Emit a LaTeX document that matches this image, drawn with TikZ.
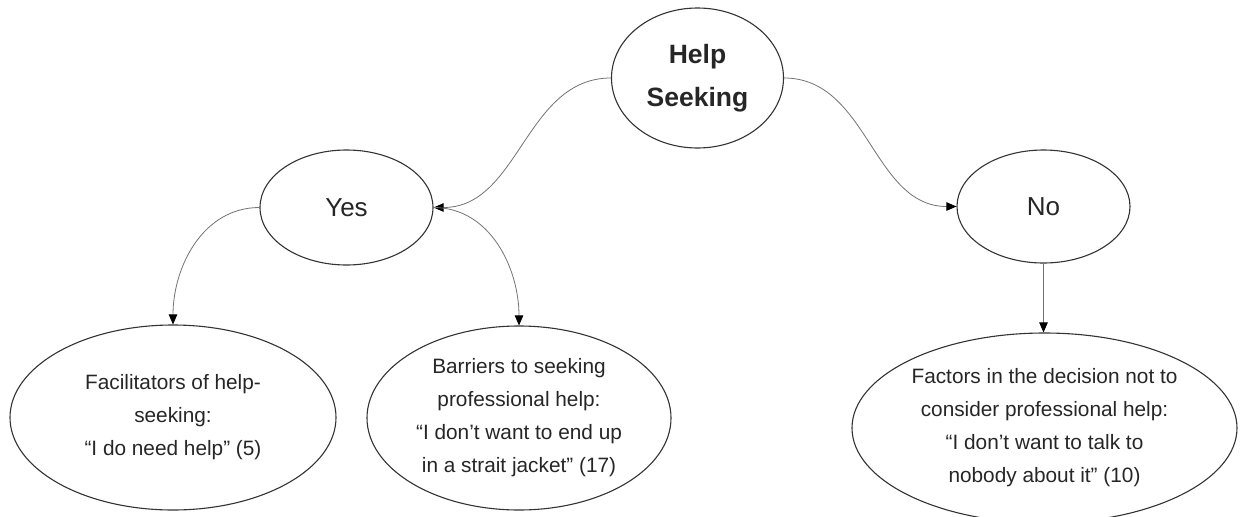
\documentclass[tikz,border=0pt]{standalone}
\usepackage{fontspec}
\setmainfont{Liberation Sans}
\usetikzlibrary{shapes.geometric,arrows.meta}
\tikzset{
  bub/.style={ellipse, draw=black!80, line width=1.1pt, inner sep=0pt, align=center, text=black!85},
  conn/.style={draw=black!55, line width=0.8pt, -{Triangle[length=10pt,width=8.5pt,fill=black,color=black]}},
  big/.style={font=\fontsize{26}{40}\selectfont},
  small/.style={font=\fontsize{20.8}{33}\selectfont}
}
\begin{document}
\begin{tikzpicture}[x=1pt,y=-1pt]
\useasboundingbox (0,0) rectangle (1243,517);
\node[bub, font=\fontsize{26.5}{43}\selectfont\bfseries, minimum width=172pt, minimum height=140pt] (help) at (697.5,78) {Help\\Seeking};
\node[bub, big, minimum width=173pt, minimum height=115pt] (yes) at (346.5,207.5) {Yes};
\node[bub, big, minimum width=173pt, minimum height=113pt] (no) at (1043.5,206.5) {No};
\node[bub, small, minimum width=326pt, minimum height=185pt] (fac) at (173,417.5) {Facilitators of help-\\seeking:\\``I do need help'' (5)};
\node[bub, small, minimum width=304pt, minimum height=184pt] (bar) at (519,418) {Barriers to seeking\\professional help:\\``I don’t want to end up\\in a strait jacket'' (17)};
\node[bub, small, minimum width=385pt, minimum height=190pt] (fact) at (1044.5,428) {Factors in the decision not to\\consider professional help:\\``I don’t want to talk to\\nobody about it'' (10)};
\draw[conn] (help.west) to[out=180,in=0] (yes.east);
\draw[conn] (help.east) to[out=0,in=180] (no.west);
\draw[conn] (yes.west) to[out=180,in=90] (fac.north);
\draw[conn] (yes.east) to[out=0,in=90] (bar.north);
\draw[conn] (no.south) -- (fact.north -| no.south);
\end{tikzpicture}
\end{document}
